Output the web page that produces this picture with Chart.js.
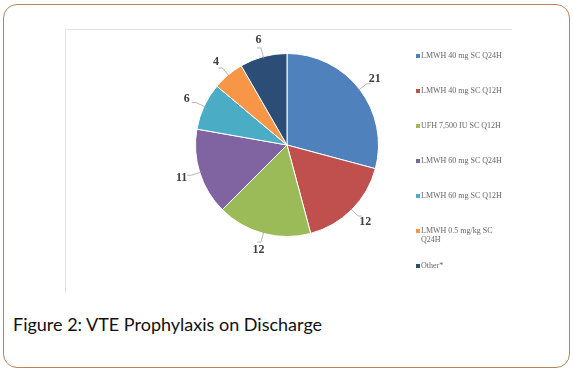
<!DOCTYPE html>
<html>
<head>
<meta charset="utf-8">
<script src="https://cdn.jsdelivr.net/npm/chart.js@4.4.0/dist/chart.umd.min.js"></script>
<style>
    html, body { margin: 0; padding: 0; background: #fff; }
    body { width: 573px; height: 370px; position: relative; overflow: hidden; }
    .card {
        position: absolute; left: 3px; top: 4px; width: 565px; height: 362px;
        border: 1.5px solid #b7855a; border-radius: 14px;
    }
    .frame {
        position: absolute; left: 65px; top: 29px; width: 446px; height: 263px;
        border-top: 1px solid #e2e2e2; border-left: 1px solid #e2e2e2;
    }
    .caption {
        position: absolute; left: 13px; top: 313px;
        font-family: Lato, sans-serif; font-size: 18px; color: #111;
        white-space: nowrap;
    }
    #chart { position: absolute; left: 0; top: 0; }
</style>
</head>
<body>
<div class="card"></div>
<div class="frame"></div>
<div class="caption">Figure 2: VTE Prophylaxis on Discharge</div>
<canvas id="chart" width="573" height="370"></canvas>

<script>
// data
const categories = [
    'LMWH 40 mg SC Q24H',
    'LMWH 40 mg SC Q12H',
    'UFH 7,500 IU SC Q12H',
    'LMWH 60 mg SC Q24H',
    'LMWH 60 mg SC Q12H',
    'LMWH 0.5 mg/kg SC Q24H',
    'Other*'
]
const counts = [21, 12, 12, 11, 6, 4, 6]
const colors = ['#4f81bd', '#c0504d', '#9bbb59', '#8064a2', '#4bacc6', '#f79646', '#2c4d75']

// value labels with short leader lines, drawn outside each slice
const sliceLabels = {
    id: 'sliceLabels',
    afterDatasetsDraw(chart) {
        const ctx = chart.ctx
        const meta = chart.getDatasetMeta(0)
        ctx.save()
        meta.data.forEach(function(arc, i){
            const mid = (arc.startAngle + arc.endAngle) / 2
            const r = arc.outerRadius
            const cx = arc.x, cy = arc.y
            const cos = Math.cos(mid), sin = Math.sin(mid)

            ctx.strokeStyle = '#a6a6a6'
            ctx.lineWidth = 0.8
            ctx.beginPath()
            ctx.moveTo(cx + cos * (r - 2), cy + sin * (r - 2))
            ctx.lineTo(cx + cos * (r + 9), cy + sin * (r + 9))
            const ex = cx + cos * (r + 9)
            ctx.lineTo(ex + (cos >= 0 ? 4 : -4), cy + sin * (r + 9))
            ctx.stroke()

            ctx.fillStyle = '#404040'
            ctx.font = 'bold 12px "Liberation Serif"'
            ctx.textAlign = 'center'
            ctx.textBaseline = 'middle'
            ctx.fillText(counts[i], cx + cos * (r + 19), cy + sin * (r + 17))
        })
        ctx.restore()
    }
}

// legend on the right, one entry every 35px, long names wrap
const sideLegend = {
    id: 'sideLegend',
    afterDraw(chart) {
        const ctx = chart.ctx
        const x = 416, y0 = 56, step = 35, maxW = 84
        ctx.save()
        ctx.font = '8px "Liberation Serif"'
        ctx.textBaseline = 'middle'
        ctx.textAlign = 'left'
        chart.data.labels.forEach(function(label, i){
            const y = y0 + i * step
            ctx.fillStyle = colors[i]
            ctx.fillRect(x, y - 2, 4, 4)

            let lines = []
            let line = ''
            label.split(' ').forEach(function(word){
                const test = line ? line + ' ' + word : word
                if (ctx.measureText(test).width > maxW && line) {
                    lines.push(line)
                    line = word
                } else {
                    line = test
                }
            })
            lines.push(line)

            ctx.fillStyle = '#666666'
            lines.forEach(function(txt, j){
                ctx.fillText(txt, x + 5, y + j * 9)
            })
        })
        ctx.restore()
    }
}

new Chart(document.getElementById('chart').getContext('2d'), {
    type: 'pie',
    data: {
        labels: categories,
        datasets: [{
            data: counts,
            backgroundColor: colors,
            borderColor: '#ffffff',
            borderWidth: 1
        }]
    },
    options: {
        responsive: false,
        animation: false,
        layout: { padding: { left: 195, right: 194, top: 53, bottom: 133 } },
        plugins: {
            legend: { display: false },
            tooltip: { enabled: false }
        }
    },
    plugins: [sliceLabels, sideLegend]
})
</script>
</body>
</html>
